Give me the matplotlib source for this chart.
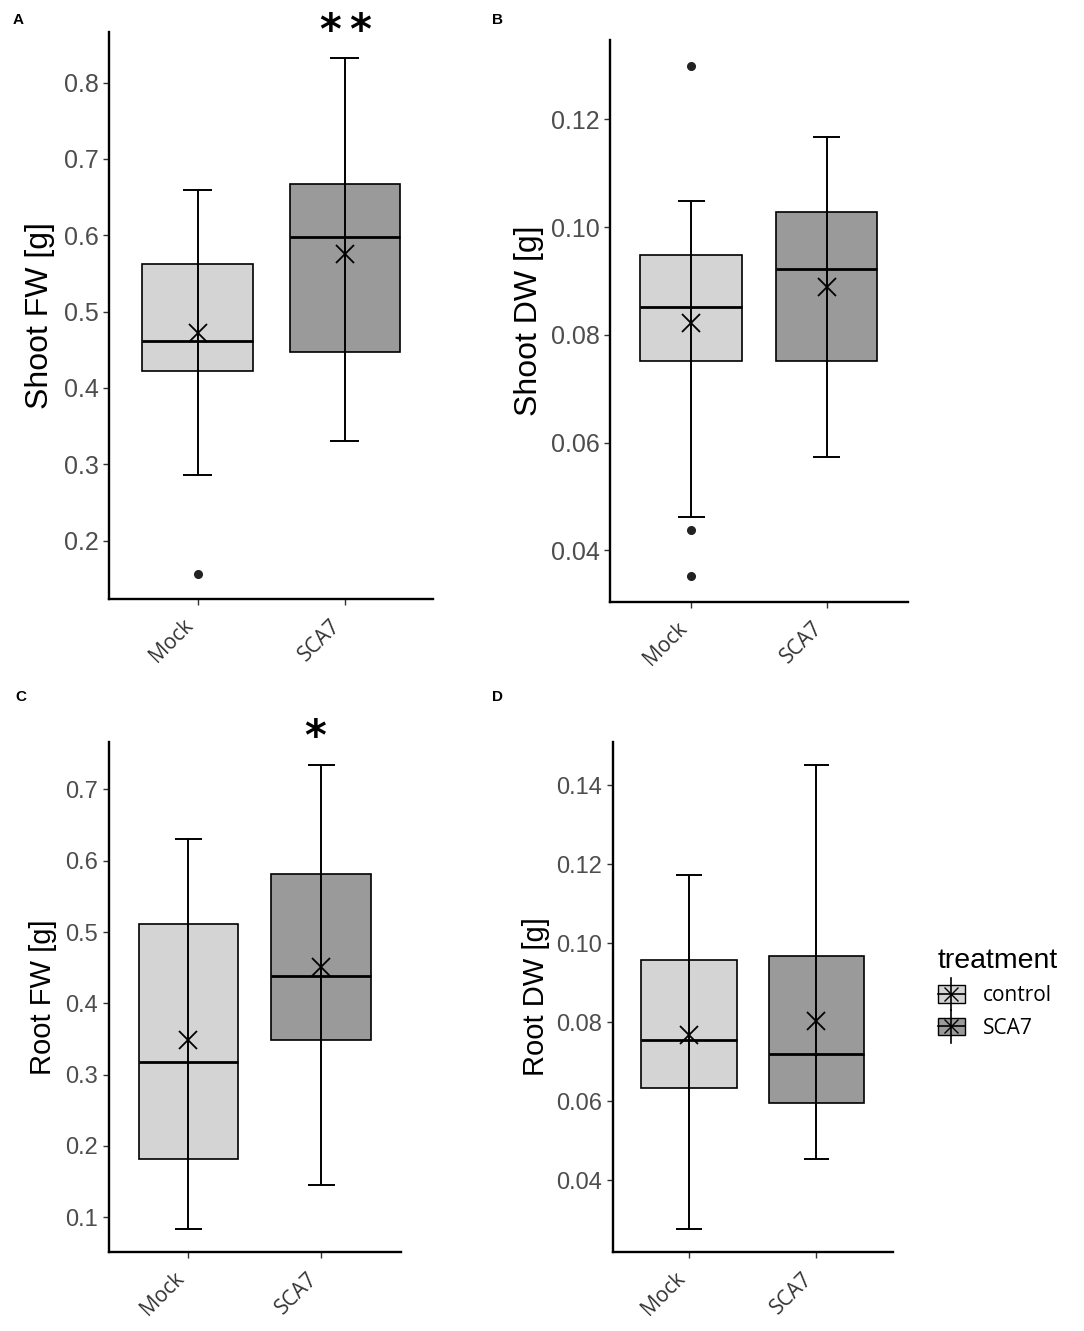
import matplotlib
matplotlib.use('Agg')
import matplotlib.pyplot as plt
from matplotlib.patches import Rectangle, Patch
from matplotlib.lines import Line2D
from matplotlib.legend_handler import HandlerBase
from matplotlib.ticker import FormatStrFormatter, MultipleLocator

plt.rcParams['font.family'] = ['Liberation Sans', 'DejaVu Sans']

groups = ['Mock', 'SCA7']
fills = ['#d4d4d4', '#9a9a9a']
legend_labels = ['control', 'SCA7']

# Shoot fresh weight (A)
sfw_q1 = [0.422, 0.447]
sfw_med = [0.462, 0.598]
sfw_q3 = [0.562, 0.667]
sfw_lo = [0.286, 0.331]
sfw_hi = [0.659, 0.832]
sfw_mean = [0.472, 0.576]
sfw_out = [[0.157], []]

# Shoot dry weight (B)
sdw_q1 = [0.0752, 0.0752]
sdw_med = [0.0851, 0.0923]
sdw_q3 = [0.0949, 0.1028]
sdw_lo = [0.0462, 0.0574]
sdw_hi = [0.1049, 0.1167]
sdw_mean = [0.0822, 0.0889]
sdw_out = [[0.130, 0.0438, 0.0352], []]

# Root fresh weight (C)
rfw_q1 = [0.181, 0.349]
rfw_med = [0.318, 0.438]
rfw_q3 = [0.511, 0.581]
rfw_lo = [0.0836, 0.145]
rfw_hi = [0.631, 0.7345]
rfw_mean = [0.349, 0.451]
rfw_out = [[], []]

# Root dry weight (D)
rdw_q1 = [0.0634, 0.0596]
rdw_med = [0.0756, 0.0719]
rdw_q3 = [0.0957, 0.0969]
rdw_lo = [0.0277, 0.0454]
rdw_hi = [0.1172, 0.1452]
rdw_mean = [0.0768, 0.0803]
rdw_out = [[], []]

W, H = 1084, 1331
fig = plt.figure(figsize=(W / 100, H / 100), dpi=100)


def px_axes(left, top, right, bottom):
    return fig.add_axes([left / W, 1 - bottom / H, (right - left) / W, (bottom - top) / H])


def draw_panel(ax, q1, med, q3, lo, hi, mean, out, step, fmt, ylab, lab_x, ysize, labsize):
    stats = []
    for i in range(len(groups)):
        stats.append(dict(q1=q1[i], med=med[i], q3=q3[i], whislo=lo[i], whishi=hi[i],
                          fliers=out[i], label=groups[i]))
    pos = [1, 2]
    res = ax.bxp(stats, positions=pos, widths=0.75, patch_artist=True, showcaps=False,
                 boxprops=dict(edgecolor='black', linewidth=1.2),
                 whiskerprops=dict(linestyle='none'),
                 medianprops=dict(color='black', linewidth=2.0),
                 flierprops=dict(marker='o', markerfacecolor='#222222', markeredgecolor='#222222',
                                 markersize=5.5))
    for box, c in zip(res['boxes'], fills):
        box.set_facecolor(c)
    # error bar drawn through the box
    ax.vlines(pos, lo, hi, color='black', linewidth=1.4, zorder=3)
    ax.hlines(lo, [p - 0.1 for p in pos], [p + 0.1 for p in pos], color='black', linewidth=1.4, zorder=3)
    ax.hlines(hi, [p - 0.1 for p in pos], [p + 0.1 for p in pos], color='black', linewidth=1.4, zorder=3)
    ax.plot(pos, mean, linestyle='none', marker='x', markersize=13, markeredgewidth=1.3,
            color='black', zorder=4)

    # ggplot-like 5% expansion of the data range
    allv = lo + hi + [v for o in out for v in o]
    span = max(allv) - min(allv)
    ax.set_ylim(min(allv) - 0.05 * span, max(allv) + 0.05 * span)
    ax.set_xlim(0.4, 2.6)
    ax.yaxis.set_major_locator(MultipleLocator(step))
    ax.yaxis.set_major_formatter(FormatStrFormatter(fmt))
    ax.set_xticks(pos)
    ax.set_xticklabels(groups, rotation=45, ha='right', fontfamily='Open Sans',
                       fontsize=15, color='#333333')
    for s in ['top', 'right']:
        ax.spines[s].set_visible(False)
    for s in ['left', 'bottom']:
        ax.spines[s].set_linewidth(1.7)
        ax.spines[s].set_color('black')
    ax.tick_params(axis='both', direction='out', length=4.5, width=1.0, color='#333333')
    ax.tick_params(axis='y', labelsize=ysize, labelcolor='#4d4d4d', pad=3)
    ax.tick_params(axis='x', pad=7)
    ax.set_ylabel(ylab, fontsize=labsize, color='black')
    ax.yaxis.set_label_coords(lab_x, 0.5)
    ax.set_facecolor('white')


axA = px_axes(109.3, 32.3, 433, 599.3)
draw_panel(axA, sfw_q1, sfw_med, sfw_q3, sfw_lo, sfw_hi, sfw_mean, sfw_out,
           0.1, '%.1f', 'Shoot FW [g]', -0.167, 18, 23)
axB = px_axes(610, 40, 907.7, 601.7)
draw_panel(axB, sdw_q1, sdw_med, sdw_q3, sdw_lo, sdw_hi, sdw_mean, sdw_out,
           0.02, '%.2f', 'Shoot DW [g]', -0.222, 18, 23)
axC = px_axes(108.7, 741.7, 401, 1252)
draw_panel(axC, rfw_q1, rfw_med, rfw_q3, rfw_lo, rfw_hi, rfw_mean, rfw_out,
           0.1, '%.1f', 'Root FW [g]', -0.177, 17, 21)
axD = px_axes(612.7, 741.7, 892.7, 1252)
draw_panel(axD, rdw_q1, rdw_med, rdw_q3, rdw_lo, rdw_hi, rdw_mean, rdw_out,
           0.02, '%.2f', 'Root DW [g]', -0.224, 17, 21)

# significance marks
axA.text(2.01, 0.866, '*\u2009*', ha='center', va='center', fontsize=30, fontweight='bold',
         family='DejaVu Sans', clip_on=False)
axC.text(1.95, 0.772, '*', ha='center', va='center', fontsize=30, fontweight='bold',
         family='DejaVu Sans', clip_on=False)

# panel letters
for letter, x, y in [('A', 13, 20.5), ('B', 492, 20.5), ('C', 15, 697), ('D', 492, 697)]:
    fig.text(x / W, 1 - y / H, letter, fontsize=11, fontweight='bold', ha='left', va='center')


class BoxKey(HandlerBase):
    def create_artists(self, legend, orig_handle, xdescent, ydescent, width, height, fontsize, trans):
        x0, y0 = -xdescent, -ydescent
        face = orig_handle.get_facecolor()
        box = Rectangle((x0, y0), width, height, facecolor=face, edgecolor='black',
                        linewidth=1.0, transform=trans)
        cx = x0 + width / 2
        cy = y0 + height / 2
        stem = Line2D([cx, cx], [y0 - 0.45 * height, y0 + 1.45 * height], color='black',
                      linewidth=1.2, transform=trans)
        mid = Line2D([x0, x0 + width], [cy, cy], color='black', linewidth=1.2, transform=trans)
        cross = Line2D([cx], [cy], marker='x', markersize=10, markeredgewidth=1.0,
                       color='black', transform=trans)
        return [box, stem, mid, cross]


handles = [Patch(facecolor=c) for c in fills]
leg = fig.legend(handles, legend_labels, loc='upper left', bbox_to_anchor=(919 / W, 1 - 929 / H),
                 frameon=False, title='treatment', alignment='left',
                 handler_map={Patch: BoxKey()}, handlelength=1.3, handleheight=0.9,
                 handletextpad=0.85, labelspacing=0.55,
                 prop={'family': 'Open Sans', 'size': 15},
                 title_fontproperties={'family': 'Liberation Sans', 'size': 20.5})

fig.savefig('out.png', dpi=100, facecolor='white')
